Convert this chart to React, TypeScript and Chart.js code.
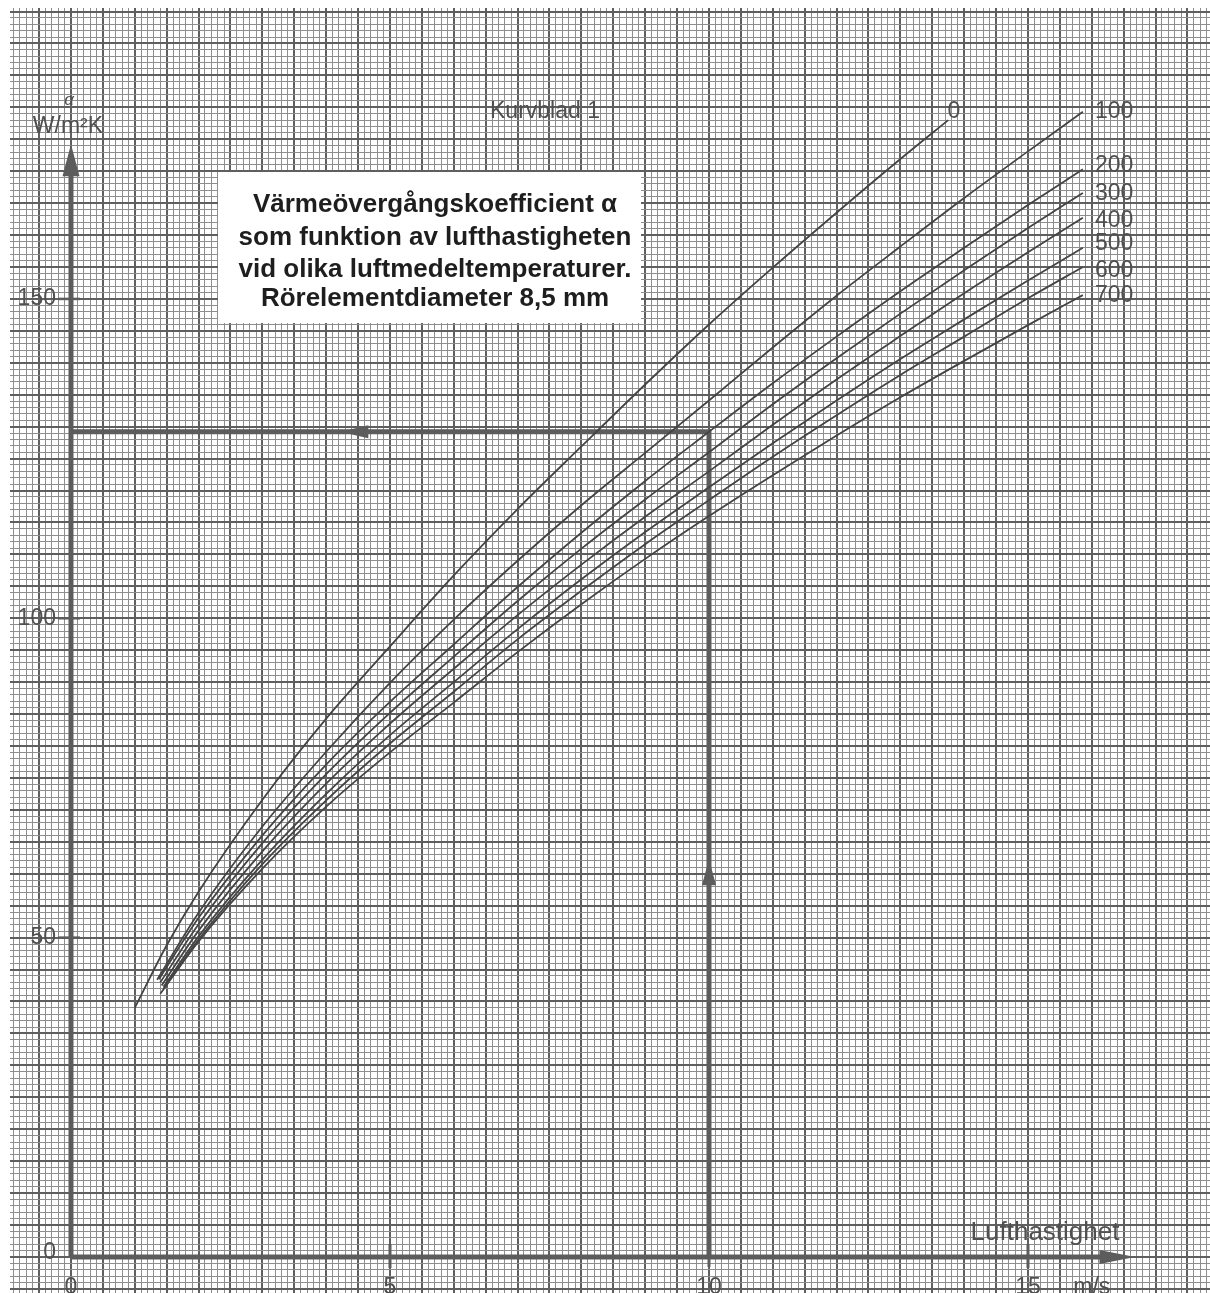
import React, { useEffect, useRef } from "react";
import { Chart, registerables } from "chart.js";

Chart.register(...registerables);

// ---- Data (air velocity m/s -> heat transfer coefficient W/m²K) ----
const TEMPS = ["0", "100", "200", "300", "400", "500", "600", "700"];

const V_0 = [1.0, 1.5, 2, 3, 4, 5, 6, 7, 8, 9, 10, 11, 12, 13, 13.75];
const A_0 = [39, 48.8, 57.2, 71.6, 84.3, 95.6, 106.7, 117.1, 126.9, 136.6, 146, 154.9, 163.5, 171.9, 178];

const V_100 = [1.35, 2, 3, 4, 5, 6, 7, 8, 9, 10, 11, 12, 13, 14, 15, 15.86];
const A_100 = [43.4, 53.9, 67.4, 79.1, 89.9, 99.8, 109.0, 117.7, 125.9, 134.1, 142.4, 150.5, 158.2, 165.8, 173.1, 179.3];

const V_200 = [1.38, 2, 3, 4, 5, 6, 7, 8, 9, 10, 11, 12, 13, 14, 15, 15.86];
const A_200 = [43.5, 53.1, 66.0, 77.1, 86.9, 95.9, 104.9, 113.4, 121.5, 129.2, 136.8, 144.1, 151.2, 158.0, 164.7, 170.3];

const V_300 = [1.4, 2, 3, 4, 5, 6, 7, 8, 9, 10, 11, 12, 13, 14, 15, 15.86];
const A_300 = [43, 52.1, 64.8, 75.6, 85.2, 94.0, 102.7, 110.9, 118.6, 126, 133.5, 140.7, 147.7, 154.5, 161.1, 166.6];

const V_400 = [1.42, 2, 3, 4, 5, 6, 7, 8, 9, 10, 11, 12, 13, 14, 15, 15.86];
const A_400 = [42.5, 51.1, 63.5, 74.1, 83.5, 92.1, 100.5, 108.4, 115.9, 123, 130.3, 137.4, 144.2, 150.9, 157.3, 162.7];

const V_500 = [1.45, 2, 3, 4, 5, 6, 7, 8, 9, 10, 11, 12, 13, 14, 15, 15.86];
const A_500 = [42.3, 50.2, 62.2, 72.5, 81.7, 90.0, 98.3, 106.1, 113.5, 120.5, 127.4, 134.1, 140.6, 146.8, 152.9, 158];

const V_600 = [1.45, 2, 3, 4, 5, 6, 7, 8, 9, 10, 11, 12, 13, 14, 15, 15.86];
const A_600 = [42, 49.7, 61.5, 71.5, 80.4, 88.5, 96.7, 104.3, 111.6, 118.5, 125.3, 131.8, 138.1, 144.1, 150.1, 155];

const V_700 = [1.4, 2, 3, 4, 5, 6, 7, 8, 9, 10, 11, 12, 13, 14, 15, 15.86];
const A_700 = [41.2, 49.4, 60.8, 70.5, 79.0, 86.8, 94.7, 102.2, 109.3, 116, 122.4, 128.6, 134.6, 140.3, 145.9, 150.6];

const CURVE_V = [V_0, V_100, V_200, V_300, V_400, V_500, V_600, V_700];
const CURVE_A = [A_0, A_100, A_200, A_300, A_400, A_500, A_600, A_700];

// reading example: 10 m/s -> 129.2 W/m²K
const GUIDE_V = [0, 10, 10];
const GUIDE_A = [129.2, 129.2, 0];

// axes
const X_AXIS_V = [0, 16.2];
const X_AXIS_A = [0, 0];
const Y_AXIS_V = [0, 0];
const Y_AXIS_A = [0, 169.5];

const X_TICKS = [0, 5, 10, 15];
const X_TICK_LABELS = ["0", "5", "10", "15"];
const Y_TICKS = [0, 50, 100, 150];
const Y_TICK_LABELS = ["0", "50", "100", "150"];

const TITLE_LINES = [
  "Värmeövergångskoefficient α",
  "som funktion av lufthastigheten",
  "vid olika luftmedeltemperaturer.",
  "Rörelementdiameter 8,5 mm",
];

// scale extents (graph paper covers whole sheet)
const X_MIN = -0.956;
const X_MAX = 17.853;
const Y_MIN = -5.64;
const Y_MAX = 195.55;

const GRID_MINOR = "#8e8e8e";
const GRID_MAJOR = "#5f5f5f";
const INK = "#444444";
const THICK = "#5c5c5c";
const TEXT = "#505050";
const FONT = "'Liberation Sans', Arial, Helvetica, sans-serif";

const toPts = (vs: number[], as: number[]) => vs.map((v, i) => ({ x: v, y: as[i] }));

const annotate = {
  id: "annotate",
  afterDatasetsDraw(chart: any) {
    const ctx = chart.ctx as CanvasRenderingContext2D;
    const xs = chart.scales.x;
    const ys = chart.scales.y;
    const px = (v: number) => xs.getPixelForValue(v);
    const py = (a: number) => ys.getPixelForValue(a);
    ctx.save();

    // title box
    ctx.fillStyle = "#ffffff";
    ctx.fillRect(218, 172, 423, 151);
    ctx.fillStyle = "#1e1e1e";
    ctx.font = `bold 26px ${FONT}`;
    ctx.textAlign = "center";
    ctx.textBaseline = "alphabetic";
    const base = [212, 245, 277, 306];
    TITLE_LINES.forEach((t, i) => ctx.fillText(t, 435, base[i]));

    // ticks
    ctx.strokeStyle = THICK;
    ctx.lineWidth = 3;
    ctx.lineCap = "butt";
    [5, 15].forEach((v) => {
      ctx.beginPath();
      ctx.moveTo(px(v), py(0) - 13);
      ctx.lineTo(px(v), py(0) + 11);
      ctx.stroke();
    });
    ctx.beginPath();
    ctx.moveTo(px(10), py(0));
    ctx.lineTo(px(10), py(0) + 10);
    ctx.stroke();
    ctx.lineWidth = 2.5;
    [50, 100, 150].forEach((a) => {
      ctx.beginPath();
      ctx.moveTo(px(0) - 13, py(a));
      ctx.lineTo(px(0) + 9, py(a));
      ctx.stroke();
    });

    // arrowheads
    ctx.fillStyle = THICK;
    const tri = (p: number[][]) => {
      ctx.beginPath();
      ctx.moveTo(p[0][0], p[0][1]);
      ctx.lineTo(p[1][0], p[1][1]);
      ctx.lineTo(p[2][0], p[2][1]);
      ctx.closePath();
      ctx.fill();
    };
    tri([[px(0), py(174.2)], [px(0) - 8.5, py(169.2)], [px(0) + 8.5, py(169.2)]]);
    tri([[px(16.68), py(0)], [px(16.12), py(0) - 7], [px(16.12), py(0) + 7]]);
    tri([[px(10), py(62.3)], [px(10) - 7, py(58.2)], [px(10) + 7, py(58.2)]]);
    tri([[px(4.22), py(129.2)], [px(4.66), py(129.2) - 6.5], [px(4.66), py(129.2) + 6.5]]);

    // tick labels
    ctx.fillStyle = TEXT;
    ctx.font = `23px ${FONT}`;
    ctx.textAlign = "right";
    ctx.textBaseline = "middle";
    Y_TICKS.forEach((a, i) => ctx.fillText(Y_TICK_LABELS[i], px(0) - 15, py(a) - (a === 0 ? 4 : 0)));
    ctx.textAlign = "center";
    ctx.textBaseline = "alphabetic";
    X_TICKS.forEach((v, i) => ctx.fillText(X_TICK_LABELS[i], px(v), 1294));
    ctx.fillText("m/s", px(16), 1294);
    ctx.font = `26px ${FONT}`;
    ctx.fillText("Lufthastighet", 1045, 1240);

    // y unit
    ctx.font = `italic 17px ${FONT}`;
    ctx.fillText("α", px(0) - 2, 105);
    ctx.font = `23px ${FONT}`;
    ctx.fillText("W/m²K", px(0) - 3, 133);

    // sheet label
    ctx.fillText("Kurvblad 1", 545, 118);

    // curve labels
    ctx.fillText(TEMPS[0], 954, 118);
    ctx.textAlign = "left";
    const lb = [118, 172, 200, 227, 250, 277, 302];
    for (let i = 1; i < TEMPS.length; i++) ctx.fillText(TEMPS[i], 1095, lb[i - 1]);

    ctx.restore();
  },
};

export default function App() {
  const ref = useRef<HTMLCanvasElement | null>(null);

  useEffect(() => {
    document.body.style.margin = "0";
    if (!ref.current) return;

    const curveSets = CURVE_V.map((vs, i) => ({
      label: TEMPS[i],
      data: toPts(vs, CURVE_A[i]),
      borderColor: INK,
      borderWidth: 1.8,
      pointRadius: 0,
      cubicInterpolationMode: "monotone" as const,
      fill: false,
    }));

    const thick = (label: string, vs: number[], as: number[]) => ({
      label,
      data: toPts(vs, as),
      borderColor: THICK,
      borderWidth: 5,
      pointRadius: 0,
      tension: 0,
      fill: false,
      borderCapStyle: "butt" as const,
      borderJoinStyle: "miter" as const,
    });

    const gridColor = (mult: number) => (c: any) => {
      const v = c && c.tick ? c.tick.value : null;
      if (v == null) return "transparent";
      const k = Math.round(v * mult);
      if (Math.abs(v * mult - k) > 1e-6) return "transparent";
      return k % 5 === 0 ? GRID_MAJOR : GRID_MINOR;
    };
    const gridWidth = (mult: number) => (c: any) => {
      const v = c && c.tick ? c.tick.value : 0;
      return Math.round(v * mult) % 5 === 0 ? 2 : 1;
    };

    const chart = new Chart(ref.current, {
      type: "line",
      data: {
        datasets: [
          ...curveSets,
          thick("guide", GUIDE_V, GUIDE_A),
          thick("x-axis", X_AXIS_V, X_AXIS_A),
          thick("y-axis", Y_AXIS_V, Y_AXIS_A),
        ] as any,
      },
      options: {
        responsive: false,
        maintainAspectRatio: false,
        animation: false,
        layout: { padding: { left: 10, top: 8, right: 0, bottom: 0 } },
        plugins: { legend: { display: false }, tooltip: { enabled: false } },
        events: [],
        scales: {
          x: {
            type: "linear",
            min: X_MIN,
            max: X_MAX,
            bounds: "ticks",
            ticks: { display: false, stepSize: 0.1, includeBounds: false },
            grid: { drawTicks: false, color: gridColor(10), lineWidth: gridWidth(10) },
            border: { display: false },
            afterFit: (s: any) => {
              s.height = 0;
            },
          },
          y: {
            type: "linear",
            min: Y_MIN,
            max: Y_MAX,
            bounds: "ticks",
            ticks: { display: false, stepSize: 1, includeBounds: false },
            grid: { drawTicks: false, color: gridColor(1), lineWidth: gridWidth(1) },
            border: { display: false },
            afterFit: (s: any) => {
              s.width = 0;
            },
          },
        },
      } as any,
      plugins: [annotate],
    });

    return () => chart.destroy();
  }, []);

  return (
    <div style={{ position: "absolute", left: 0, top: 0, width: 1210, height: 1293, background: "#ffffff" }}>
      <canvas ref={ref} width={1210} height={1293} style={{ display: "block", width: 1210, height: 1293 }} />
    </div>
  );
}
